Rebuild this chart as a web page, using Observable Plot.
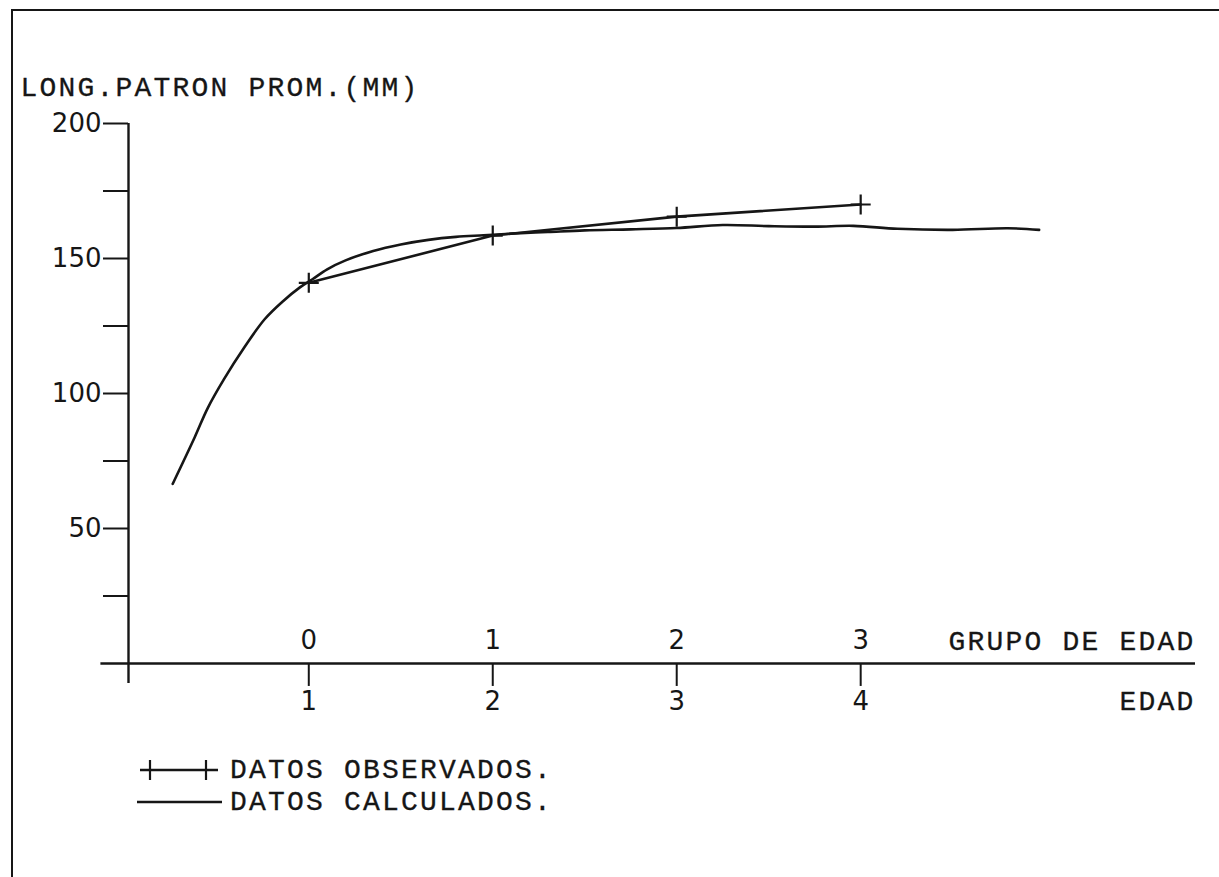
<!DOCTYPE html>
<html><head><meta charset="utf-8">
<script src="https://cdn.jsdelivr.net/npm/d3@7"></script>
<script src="https://cdn.jsdelivr.net/npm/@observablehq/plot@0.6"></script>
<style>
body{margin:0;background:#fff;}
#wrap{position:relative;width:1219px;height:877px;overflow:hidden;background:#fff}
#border{position:absolute;left:11px;top:9px;width:1300px;height:1000px;border-left:2px solid #161616;border-top:2px solid #161616;}
#chart{position:absolute;left:0;top:0}
#chart g[font-family*="Mono"] text{letter-spacing:2.2px}
.legrow{position:absolute;left:130px;height:30px;display:flex;align-items:center}
.legrow span{font-family:"Liberation Mono",monospace;font-size:28px;letter-spacing:2.2px;color:#161616;margin-left:8px;-webkit-text-stroke:0.3px #161616}
</style></head><body>
<div id="wrap"><div id="border"></div><div id="chart"></div>
<div class="legrow" id="leg1" style="top:755px"></div>
<div class="legrow" id="leg2" style="top:787px"></div>
</div>
<script>
// Observed data (edad, long. patrón promedio mm)
const edadObs = [1, 2, 3, 4];
const lpObs = [141, 158.5, 165.5, 170];
// Calculated curve
const edadCalc = [0.26, 0.38, 0.45, 0.54, 0.65, 0.76, 0.86, 0.95, 1.02, 1.1, 1.2, 1.35, 1.5, 1.65, 1.8, 1.95, 2.1, 2.3, 2.5, 2.75, 3.0, 3.25, 3.5, 3.75, 3.96, 4.2, 4.5, 4.8, 4.97];
const lpCalc  = [66.5, 83.8, 94.5, 105.4, 117.1, 127.5, 134.2, 139.2, 142.3, 146, 149.3, 152.8, 155.2, 156.9, 158, 158.6, 159.2, 159.8, 160.4, 160.8, 161.3, 162.4, 162, 161.8, 162.1, 161, 160.6, 161.2, 160.6];
// Ticks and labels
const yTicks = [25, 50, 75, 100, 125, 150, 175, 200];
const yTickLabels = [50, 100, 150, 200];
const edadTicks = [1, 2, 3, 4];
const grupoLabels = ["0", "1", "2", "3"];
const edadLabels = ["1", "2", "3", "4"];
const yTitle = "LONG.PATRON PROM.(MM)";
const grupoTitle = "GRUPO DE EDAD";
const edadTitle = "EDAD";
const legendLabels = ["DATOS OBSERVADOS.", "DATOS CALCULADOS."];

const ink = "#161616";
const mono = "Liberation Mono, monospace";
const sans = "DejaVu Sans, sans-serif";
const axisX0 = 0.02;

const plusSymbol = {
  draw(ctx, size) {
    const r = Math.sqrt(size / Math.PI);
    ctx.moveTo(-r, 0); ctx.lineTo(r, 0);
    ctx.moveTo(0, -r); ctx.lineTo(0, r);
  }
};

const obs = edadObs.map((e, i) => ({edad: e, lp: lpObs[i]}));
const calc = edadCalc.map((e, i) => ({edad: e, lp: lpCalc[i]}));

const monoText = {fontSize: 28, fontFamily: mono, fill: ink, stroke: ink, strokeWidth: 0.3};
const digitText = {fontSize: 26, fontFamily: sans, fill: ink};

const chart = Plot.plot({
  width: 1219,
  height: 730,
  marginLeft: 128,
  marginRight: 24,
  marginTop: 123,
  marginBottom: 40,
  x: {domain: [axisX0, 5.82], axis: null},
  y: {domain: [-10, 200], axis: null},
  style: {background: "transparent", color: ink},
  marks: [
    Plot.ruleY([0], {x1: -0.13, x2: 5.82, stroke: ink, strokeWidth: 2.4}),
    Plot.ruleX([axisX0], {y1: -7.4, y2: 200, stroke: ink, strokeWidth: 2.4}),
    Plot.ruleY(yTicks, {x1: axisX0 - 25 / 184, x2: axisX0, stroke: ink, strokeWidth: 2}),
    Plot.ruleX(edadTicks, {y1: 0, y2: -8.5, stroke: ink, strokeWidth: 2}),
    Plot.text(yTickLabels, {x: axisX0, y: d => d, text: d => String(d), dx: -27, textAnchor: "end", ...digitText}),
    Plot.text(edadTicks, {x: d => d, y: 8.3, text: (d, i) => grupoLabels[i], ...digitText}),
    Plot.text(edadTicks, {x: d => d, y: -14, text: (d, i) => edadLabels[i], ...digitText}),
    Plot.text([grupoTitle], {x: 5.82, y: 8.3, text: d => d, textAnchor: "end", ...monoText}),
    Plot.text([edadTitle], {x: 5.82, y: -14, text: d => d, textAnchor: "end", ...monoText}),
    Plot.text([yTitle], {frameAnchor: "top-left", dx: -108, dy: -36, text: d => d, textAnchor: "start", lineAnchor: "middle", ...monoText}),
    Plot.line(calc, {x: "edad", y: "lp", curve: "catmull-rom", stroke: ink, strokeWidth: 2.6}),
    Plot.line(obs, {x: "edad", y: "lp", stroke: ink, strokeWidth: 2.6}),
    Plot.dot(obs, {x: "edad", y: "lp", symbol: plusSymbol, r: 10, stroke: ink, fill: "none", strokeWidth: 2.2})
  ]
});
document.getElementById("chart").appendChild(chart);

// Legend
const leg1 = document.getElementById("leg1");
leg1.innerHTML = `<svg width="92" height="30"><line x1="10" y1="15" x2="88" y2="15" stroke="${ink}" stroke-width="2.4"/><line x1="20" y1="5" x2="20" y2="25" stroke="${ink}" stroke-width="2.2"/><line x1="76" y1="5" x2="76" y2="25" stroke="${ink}" stroke-width="2.2"/></svg><span>${legendLabels[0]}</span>`;
const leg2 = document.getElementById("leg2");
leg2.innerHTML = `<svg width="92" height="30"><line x1="7" y1="15" x2="92" y2="15" stroke="${ink}" stroke-width="2.4"/></svg><span>${legendLabels[1]}</span>`;
</script>
</body></html>
